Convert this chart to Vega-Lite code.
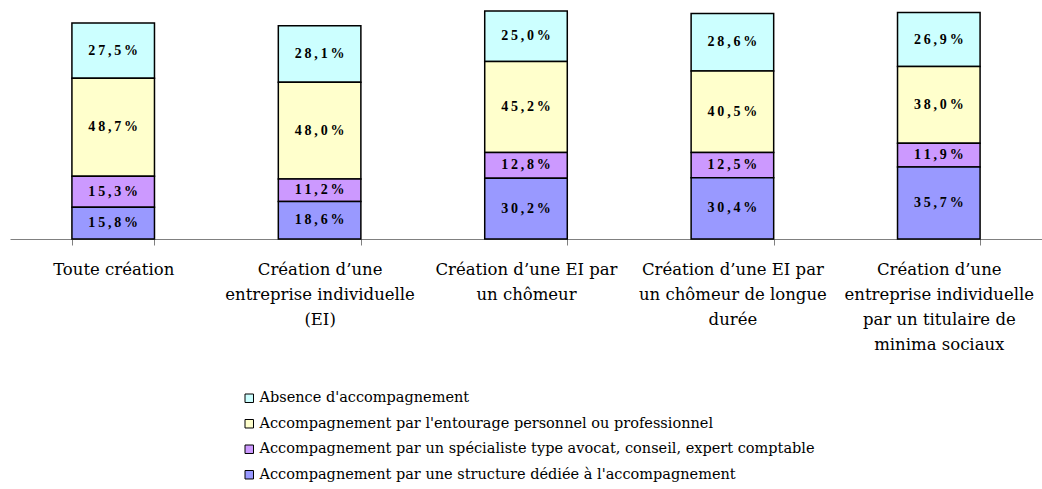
{
  "$schema": "https://vega.github.io/schema/vega-lite/v6.json",
  "autosize": "none",
  "width": 1032,
  "height": 234,
  "padding": {"left": 10, "top": 5, "right": 0, "bottom": 250},
  "background": "white",
  "config": {
    "view": {"stroke": null},
    "locale": {"number": {"decimal": ",", "thousands": " ", "grouping": [3], "currency": ["", " €"]}}
  },
  "data": {
    "values": [
      {"cat": "Toute création", "serie": "Absence d'accompagnement", "v": 0.275},
      {"cat": "Toute création", "serie": "Accompagnement par l'entourage personnel ou professionnel", "v": 0.487},
      {"cat": "Toute création", "serie": "Accompagnement par un spécialiste type avocat, conseil, expert comptable", "v": 0.153},
      {"cat": "Toute création", "serie": "Accompagnement par une structure dédiée à l'accompagnement", "v": 0.158},
      {"cat": "Création d’une entreprise individuelle (EI)", "serie": "Absence d'accompagnement", "v": 0.281},
      {"cat": "Création d’une entreprise individuelle (EI)", "serie": "Accompagnement par l'entourage personnel ou professionnel", "v": 0.480},
      {"cat": "Création d’une entreprise individuelle (EI)", "serie": "Accompagnement par un spécialiste type avocat, conseil, expert comptable", "v": 0.112},
      {"cat": "Création d’une entreprise individuelle (EI)", "serie": "Accompagnement par une structure dédiée à l'accompagnement", "v": 0.186},
      {"cat": "Création d’une EI par un chômeur", "serie": "Absence d'accompagnement", "v": 0.250},
      {"cat": "Création d’une EI par un chômeur", "serie": "Accompagnement par l'entourage personnel ou professionnel", "v": 0.452},
      {"cat": "Création d’une EI par un chômeur", "serie": "Accompagnement par un spécialiste type avocat, conseil, expert comptable", "v": 0.128},
      {"cat": "Création d’une EI par un chômeur", "serie": "Accompagnement par une structure dédiée à l'accompagnement", "v": 0.302},
      {"cat": "Création d’une EI par un chômeur de longue durée", "serie": "Absence d'accompagnement", "v": 0.286},
      {"cat": "Création d’une EI par un chômeur de longue durée", "serie": "Accompagnement par l'entourage personnel ou professionnel", "v": 0.405},
      {"cat": "Création d’une EI par un chômeur de longue durée", "serie": "Accompagnement par un spécialiste type avocat, conseil, expert comptable", "v": 0.125},
      {"cat": "Création d’une EI par un chômeur de longue durée", "serie": "Accompagnement par une structure dédiée à l'accompagnement", "v": 0.304},
      {"cat": "Création d’une entreprise individuelle par un titulaire de minima sociaux", "serie": "Absence d'accompagnement", "v": 0.269},
      {"cat": "Création d’une entreprise individuelle par un titulaire de minima sociaux", "serie": "Accompagnement par l'entourage personnel ou professionnel", "v": 0.380},
      {"cat": "Création d’une entreprise individuelle par un titulaire de minima sociaux", "serie": "Accompagnement par un spécialiste type avocat, conseil, expert comptable", "v": 0.119},
      {"cat": "Création d’une entreprise individuelle par un titulaire de minima sociaux", "serie": "Accompagnement par une structure dédiée à l'accompagnement", "v": 0.357}
    ]
  },
  "transform": [
    {"stack": "v", "groupby": ["cat"], "sort": [{"field": "serie", "order": "descending"}], "as": ["v0", "v1"]},
    {"calculate": "(datum.v0 + datum.v1) / 2", "as": "mid"},
    {"calculate": "join(split(format(datum.v, '.1%'), ''), '\u2009')", "as": "lbl"}
  ],
  "encoding": {
    "x": {
      "field": "cat",
      "type": "nominal",
      "sort": null,
      "scale": {"paddingInner": 0.6, "paddingOuter": 0.3},
      "axis": {
        "title": null,
        "labelAngle": 0,
        "tickBand": "extent",
        "domainColor": "#808080",
        "tickColor": "#808080",
        "tickSize": 6,
        "labelPadding": 16,
        "labelFont": "DejaVu Serif",
        "labelFontSize": 16.5,
        "labelColor": "#000000",
        "labelLineHeight": 25,
        "labelBaseline": "top",
        "labelLimit": 0,
        "labelExpr": "datum.value == 'Toute création' ? 'Toute création' : datum.value == 'Création d’une entreprise individuelle (EI)' ? ['Création d’une', 'entreprise individuelle', '(EI)'] : datum.value == 'Création d’une EI par un chômeur' ? ['Création d’une EI par', 'un chômeur'] : datum.value == 'Création d’une EI par un chômeur de longue durée' ? ['Création d’une EI par', 'un chômeur de longue', 'durée'] : datum.value == 'Création d’une entreprise individuelle par un titulaire de minima sociaux' ? ['Création d’une', 'entreprise individuelle', 'par un titulaire de', 'minima sociaux'] : ''"
      }
    }
  },
  "layer": [
    {
      "mark": {"type": "bar", "stroke": "#000000", "strokeWidth": 1.5},
      "encoding": {
        "y": {"field": "v0", "type": "quantitative", "scale": {"domain": [0, 1.162], "nice": false}, "axis": null},
        "y2": {"field": "v1"},
        "color": {
          "field": "serie",
          "type": "nominal",
          "scale": {
            "domain": [
              "Absence d'accompagnement",
              "Accompagnement par l'entourage personnel ou professionnel",
              "Accompagnement par un spécialiste type avocat, conseil, expert comptable",
              "Accompagnement par une structure dédiée à l'accompagnement"
            ],
            "range": ["#CCFFFF", "#FFFFCC", "#CC99FF", "#9999FF"]
          },
          "legend": {
            "title": null,
            "orient": "none",
            "legendX": 232,
            "legendY": 386,
            "symbolType": "square",
            "symbolSize": 72,
            "symbolStrokeColor": "#000000",
            "symbolStrokeWidth": 1,
            "labelFont": "DejaVu Serif",
            "labelFontSize": 14.5,
            "labelColor": "#000000",
            "labelLimit": 0,
            "rowPadding": 10.5,
            "labelOffset": 3
          }
        }
      }
    },
    {
      "mark": {"type": "text", "font": "Liberation Serif", "fontWeight": "bold", "fontSize": 14, "color": "#000000"},
      "encoding": {
        "y": {"field": "mid", "type": "quantitative"},
        "text": {"field": "lbl", "type": "nominal"}
      }
    }
  ]
}
